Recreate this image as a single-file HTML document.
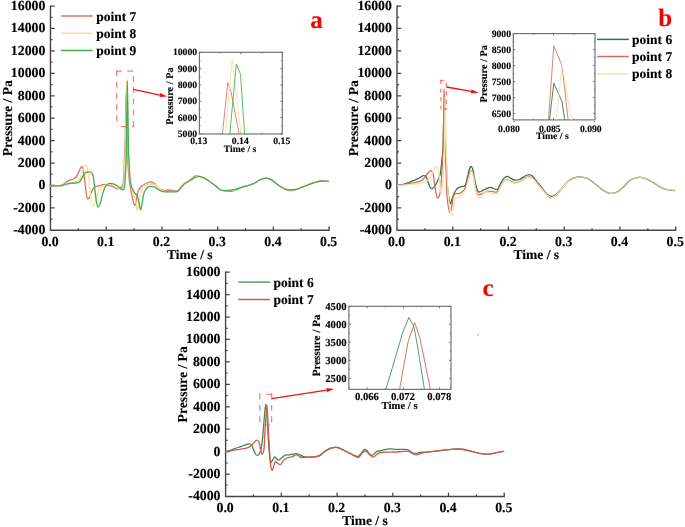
<!DOCTYPE html>
<html><head><meta charset="utf-8"><style>
html,body{margin:0;padding:0;background:#fff;width:685px;height:527px;overflow:hidden}
svg{display:block;will-change:transform} text{stroke-width:0.12px}
</style></head><body>
<svg width="685" height="527" viewBox="0 0 685 527" font-family="'Liberation Serif', serif" font-weight="bold" text-rendering="geometricPrecision">
<rect width="685" height="527" fill="#fff"/>
<g>
<path d="M50.45,5.45 V230.3 H329.1 V226.5" fill="none" stroke="#464646" stroke-width="1.4"/>
<path d="M50.45,6.05 h4.2 M50.45,17.26 h2.0 M50.45,28.48 h4.2 M50.45,39.69 h2.0 M50.45,50.9 h4.2 M50.45,62.11 h2.0 M50.45,73.33 h4.2 M50.45,84.54 h2.0 M50.45,95.75 h4.2 M50.45,106.96 h2.0 M50.45,118.17 h4.2 M50.45,129.39 h2.0 M50.45,140.6 h4.2 M50.45,151.81 h2.0 M50.45,163.03 h4.2 M50.45,174.24 h2.0 M50.45,185.45 h4.2 M50.45,196.66 h2.0 M50.45,207.88 h4.2 M50.45,219.09 h2.0 M78.31,230.3 v-2.0 M106.18,230.3 v-3.8 M134.05,230.3 v-2.0 M161.91,230.3 v-3.8 M189.78,230.3 v-2.0 M217.64,230.3 v-3.8 M245.5,230.3 v-2.0 M273.37,230.3 v-3.8 M301.24,230.3 v-2.0" stroke="#464646" stroke-width="1.25" fill="none"/>
<text x="45.35" y="10.05" font-size="13.8" text-anchor="end" fill="#000" stroke="#000" >16000</text>
<text x="45.35" y="32.48" font-size="13.8" text-anchor="end" fill="#000" stroke="#000" >14000</text>
<text x="45.35" y="54.9" font-size="13.8" text-anchor="end" fill="#000" stroke="#000" >12000</text>
<text x="45.35" y="77.33" font-size="13.8" text-anchor="end" fill="#000" stroke="#000" >10000</text>
<text x="45.35" y="99.75" font-size="13.8" text-anchor="end" fill="#000" stroke="#000" >8000</text>
<text x="45.35" y="122.17" font-size="13.8" text-anchor="end" fill="#000" stroke="#000" >6000</text>
<text x="45.35" y="144.6" font-size="13.8" text-anchor="end" fill="#000" stroke="#000" >4000</text>
<text x="45.35" y="167.03" font-size="13.8" text-anchor="end" fill="#000" stroke="#000" >2000</text>
<text x="45.35" y="189.45" font-size="13.8" text-anchor="end" fill="#000" stroke="#000" >0</text>
<text x="45.35" y="211.88" font-size="13.8" text-anchor="end" fill="#000" stroke="#000" >-2000</text>
<text x="45.35" y="234.3" font-size="13.8" text-anchor="end" fill="#000" stroke="#000" >-4000</text>
<text x="50" y="246" font-size="13.8" text-anchor="middle" fill="#000" stroke="#000" >0.0</text>
<text x="105.73" y="246" font-size="13.8" text-anchor="middle" fill="#000" stroke="#000" >0.1</text>
<text x="161.46" y="246" font-size="13.8" text-anchor="middle" fill="#000" stroke="#000" >0.2</text>
<text x="217.19" y="246" font-size="13.8" text-anchor="middle" fill="#000" stroke="#000" >0.3</text>
<text x="272.92" y="246" font-size="13.8" text-anchor="middle" fill="#000" stroke="#000" >0.4</text>
<text x="328.65" y="246" font-size="13.8" text-anchor="middle" fill="#000" stroke="#000" >0.5</text>
<text x="189.78" y="258.7" font-size="13.5" text-anchor="middle" fill="#000" stroke="#000" >Time / s</text>
<text x="0" y="0" font-size="13.7" text-anchor="middle" stroke="#000" transform="translate(11.55,118.18) rotate(-90)">Pressure / Pa</text>
<path d="M60.9,16 h31.8" stroke="#d57466" stroke-width="1.5"/>
<text x="96.2" y="20.5" font-size="13.5" text-anchor="start" fill="#000" stroke="#000" >point 7</text>
<path d="M60.9,33.3 h31.8" stroke="#fbdf9a" stroke-width="1.5"/>
<text x="96.2" y="37.8" font-size="13.5" text-anchor="start" fill="#000" stroke="#000" >point 8</text>
<path d="M60.9,50.6 h31.8" stroke="#43ad4f" stroke-width="1.5"/>
<text x="96.2" y="55.1" font-size="13.5" text-anchor="start" fill="#000" stroke="#000" >point 9</text>
<text x="310.2" y="27.8" font-size="25" text-anchor="start" fill="#f20000" stroke="#f20000" >a</text>
<path d="M50.4,185.8 C54.17,185.6 58.92,186.13 61.7,185.2 C63.58,184.57 64.59,183.16 66,182.3 C67.29,181.51 68.51,180.76 69.8,180.2 C71.02,179.67 72.38,179.62 73.5,179 C74.62,178.38 75.64,177.58 76.5,176.5 C77.53,175.22 78.18,173.26 79,171.6 C79.84,169.9 80.76,166.48 81.5,166.4 C81.93,166.35 82.36,167.16 82.7,167.9 C83.35,169.3 83.58,171.99 84,174.7 C84.62,178.68 85.09,185.15 85.8,189.5 C86.36,192.97 86.66,198.39 87.7,198.8 C88.2,199 88.95,198.23 89.5,197.5 C90.49,196.19 90.96,192.59 92,190.7 C92.86,189.14 93.73,187.61 95,186.8 C96.22,186.02 97.9,186.2 99.4,185.8 C101,185.37 102.7,184.38 104.3,184.3 C105.8,184.23 107.21,184.78 108.7,185.2 C110.31,185.66 111.96,186.39 113.6,187 C115.26,187.62 117.16,189.03 118.6,188.9 C119.79,188.79 120.97,187.79 121.7,187 C122.33,186.32 122.57,185.78 122.9,184.6 C123.66,181.83 123.7,175.25 124,170 C124.35,163.86 124.56,157.34 124.8,150 C125.1,141.01 125.38,129.69 125.6,120 C125.81,110.89 125.86,93.5 126.1,93.5 C126.29,93.5 126.59,103.3 126.8,110 C127.13,120.43 127.3,138.96 127.6,150 C127.81,157.81 127.88,164.02 128.3,170 C128.64,174.89 129.11,179.2 129.7,183.3 C130.21,186.85 130.86,190.01 131.5,193.2 C132.1,196.2 132.7,199.63 133.4,201.9 C133.87,203.42 134.43,205.63 134.9,205.6 C135.49,205.56 135.98,201.65 136.5,199.4 C137.12,196.75 137.22,193.09 138.3,190.7 C139.2,188.71 140.51,187.08 142,185.8 C143.43,184.57 145.43,183.77 147,183.1 C148.3,182.54 149.48,181.83 150.7,181.9 C151.95,181.97 153.25,182.75 154.4,183.6 C155.74,184.59 156.6,186.57 158.1,187.7 C159.72,188.92 161.96,190.15 163.9,190.5 C165.66,190.82 167.48,189.94 169.2,190 C170.84,190.06 172.5,190.72 174,190.8 C175.31,190.87 176.59,191.12 177.7,190.6 C178.97,190 179.9,188.19 181,187 C182.1,185.82 183.03,184.51 184.3,183.5 C185.64,182.43 187.26,181.88 188.9,180.8 C190.93,179.47 193.59,176.5 195.5,176 C196.72,175.68 197.62,176.16 198.8,176.4 C200.22,176.68 201.86,177.04 203.4,177.7 C205.13,178.44 206.79,179.61 208.6,180.8 C210.7,182.18 213.07,184 215.2,185.6 C217.24,187.13 219.15,189.33 221.1,190.2 C222.64,190.88 224.11,190.82 225.7,191 C227.4,191.2 229.26,191.5 231,191.3 C232.76,191.1 234.48,190.45 236.2,189.8 C237.99,189.13 239.71,187.94 241.5,187.3 C243.21,186.69 245.18,186.49 246.7,186 C247.94,185.6 248.79,185.15 250,184.7 C251.47,184.16 253.34,183.77 254.9,183 C256.51,182.21 257.77,180.8 259.5,180 C261.42,179.12 263.95,178.09 266,178.1 C267.86,178.11 269.62,178.84 271.3,179.7 C273.13,180.64 274.75,182.4 276.5,183.7 C278.25,185 279.99,186.43 281.8,187.5 C283.5,188.51 285.28,189.51 287,190 C288.54,190.44 290.02,190.56 291.6,190.5 C293.31,190.43 295.12,190.05 296.9,189.5 C298.85,188.9 300.77,187.75 302.8,186.9 C304.93,186.01 307.19,185.1 309.4,184.3 C311.59,183.5 313.79,182.65 316,182.1 C318.15,181.56 320.38,181.11 322.5,181 C324.51,180.9 326.43,181.27 328.4,181.4" fill="none" stroke="#d57466" stroke-width="1.3" stroke-linejoin="round" stroke-linecap="round" />
<path d="M50.4,185.8 C54.37,185.73 59.02,186.22 62.3,185.6 C64.75,185.14 66.41,183.85 68.5,183.3 C70.54,182.76 72.83,183.04 74.7,182.3 C76.52,181.58 78.32,180.6 79.6,179 C81.14,177.07 81.72,173.52 82.7,171 C83.58,168.75 84.25,164.95 85.2,164.6 C85.67,164.43 86.28,164.82 86.7,165.4 C87.69,166.76 87.8,171.17 88.3,174.7 C88.95,179.31 89.38,185.39 90.1,190.7 C90.82,195.99 91.4,206.3 92.6,206.5 C93.28,206.61 94.23,203.76 95,201.9 C96.09,199.26 96.73,194.65 98.1,192 C99.16,189.94 100.38,188.25 101.9,187 C103.31,185.84 105.31,185.05 106.8,184.6 C107.95,184.26 108.92,184.08 110,184.2 C111.18,184.33 112.42,184.94 113.6,185.5 C114.85,186.09 115.99,187.05 117.3,187.7 C118.68,188.39 120.68,189.82 121.7,189.5 C122.51,189.24 122.87,188.31 123.3,187 C124.38,183.69 124.16,174.25 124.5,168 C124.83,161.92 125.05,157.18 125.3,150 C125.67,139.3 126.04,122.56 126.3,110 C126.53,98.82 126.6,78.3 126.8,78.3 C127,78.3 127.28,98.82 127.5,110 C127.75,122.56 127.88,138.96 128.2,150 C128.42,157.81 128.68,164.76 129,170 C129.21,173.4 129.27,175.69 129.7,178.4 C130.12,181.01 130.88,183.5 131.5,186 C132.11,188.44 132.71,190.69 133.4,193.2 C134.16,195.97 135.25,198.99 135.9,201.9 C136.54,204.76 136.76,210.48 137.3,210.5 C137.8,210.52 138.47,205.83 139,203.1 C139.65,199.78 139.68,195.08 140.8,192 C141.7,189.53 142.78,187.13 144.5,185.8 C146.13,184.54 148.75,184.04 150.7,184 C152.42,183.96 154.05,184.4 155.6,185.2 C157.37,186.11 158.9,188.44 160.6,189.5 C162.05,190.4 163.33,191.03 165,191.4 C166.98,191.84 169.61,191.64 171.8,191.6 C173.84,191.56 176.14,191.98 177.7,191.2 C179.14,190.48 179.89,188.64 181,187.4 C182.09,186.18 183.02,184.83 184.3,183.8 C185.64,182.72 187.32,182.06 188.9,181.1 C190.61,180.07 192.45,178.62 194.2,177.8 C195.74,177.08 197.26,176.32 198.8,176.3 C200.33,176.28 201.86,177.02 203.4,177.7 C205.13,178.46 206.79,179.61 208.6,180.8 C210.7,182.18 213.07,184.03 215.2,185.6 C217.23,187.09 219.15,189.21 221.1,190 C222.65,190.63 224.11,190.53 225.7,190.6 C227.4,190.68 229.25,190.62 231,190.4 C232.75,190.18 234.48,189.8 236.2,189.3 C237.98,188.78 239.73,187.85 241.5,187.3 C243.23,186.76 245.13,186.41 246.7,186 C248.01,185.65 249.04,185.45 250.3,185 C251.76,184.48 253.4,183.81 254.9,183 C256.47,182.15 257.77,180.8 259.5,180 C261.42,179.12 263.95,178.09 266,178.1 C267.86,178.11 269.62,178.84 271.3,179.7 C273.13,180.64 274.74,182.43 276.5,183.7 C278.24,184.96 280,186.3 281.8,187.3 C283.5,188.24 285.28,189.16 287,189.6 C288.55,190 290.02,190.05 291.6,190 C293.31,189.95 295.11,189.68 296.9,189.2 C298.84,188.68 300.78,187.69 302.8,186.9 C304.94,186.06 307.19,185.1 309.4,184.3 C311.59,183.5 313.79,182.65 316,182.1 C318.15,181.56 320.38,181.11 322.5,181 C324.51,180.9 326.43,181.27 328.4,181.4" fill="none" stroke="#fbdf9a" stroke-width="1.3" stroke-linejoin="round" stroke-linecap="round" />
<path d="M50.4,185.8 C54.37,185.73 59.01,186.15 62.3,185.6 C64.74,185.2 66.41,184.02 68.5,183.6 C70.54,183.19 72.83,183.35 74.7,183.1 C76.27,182.89 77.81,183.07 79,182.3 C80.33,181.43 81.09,179.35 82.1,177.8 C83.15,176.19 83.95,173.66 85.2,172.8 C86.12,172.17 87.33,172.33 88.3,172.2 C89.15,172.08 90,171.72 90.7,172 C91.46,172.3 92.08,173 92.6,174.1 C93.67,176.34 93.82,181.67 94.4,185.8 C95.05,190.44 95.51,196.71 96.3,200.6 C96.83,203.2 97.32,206.87 98.1,207 C98.65,207.09 99.42,205.55 100,204.3 C101.01,202.09 101.51,197.5 102.5,194.4 C103.4,191.56 104.33,188.31 105.6,186.4 C106.49,185.07 107.43,183.95 108.6,183.5 C109.71,183.07 111.08,183.3 112.4,183.6 C113.96,183.96 115.84,184.88 117.3,185.8 C118.69,186.67 119.86,188.22 121,188.9 C121.81,189.38 122.73,190.04 123.3,189.8 C123.94,189.53 124.18,188.3 124.5,187 C125.14,184.38 125.14,179.22 125.4,174.7 C125.72,169.16 125.98,163.39 126.2,156.2 C126.5,146.14 126.62,132.3 126.8,120 C126.99,107.22 127.1,80.9 127.3,80.9 C127.47,80.9 127.71,99.53 127.9,110 C128.12,122.27 128.2,140.49 128.5,150 C128.67,155.28 128.9,158.19 129.1,162.3 C129.3,166.42 129.37,170.8 129.7,174.7 C130,178.19 130.1,181.59 130.9,184.6 C131.61,187.3 132.8,190.03 134,192 C134.93,193.53 136.38,194.39 137.1,195.7 C137.75,196.87 137.88,197.84 138.3,199.4 C139,201.99 139.91,209.89 140.6,209.9 C141.11,209.91 141.54,206.49 142,204.3 C142.64,201.24 142.84,196.18 143.9,193.2 C144.69,190.97 145.67,188.82 147,187.7 C148.05,186.82 149.45,186.51 150.7,186.4 C151.92,186.29 153.22,186.53 154.4,187 C155.69,187.51 156.84,188.76 158.1,189.5 C159.31,190.22 160.55,191 161.8,191.4 C162.95,191.77 163.95,191.81 165.3,191.9 C167.13,192.02 169.69,191.91 171.8,191.8 C173.82,191.7 176.13,192.08 177.7,191.3 C179.13,190.58 179.9,188.83 181,187.6 C182.1,186.37 183.01,184.94 184.3,183.9 C185.63,182.83 187.32,182.22 188.9,181.3 C190.61,180.3 192.46,178.94 194.2,178.1 C195.75,177.35 197.26,176.46 198.8,176.4 C200.32,176.34 201.86,177.04 203.4,177.7 C205.13,178.44 206.79,179.61 208.6,180.8 C210.7,182.18 213.07,184.03 215.2,185.6 C217.23,187.09 219.15,189.21 221.1,190 C222.65,190.63 224.11,190.56 225.7,190.6 C227.4,190.65 229.25,190.43 231,190.2 C232.75,189.97 234.48,189.67 236.2,189.2 C237.98,188.71 239.73,187.84 241.5,187.3 C243.23,186.78 245.13,186.41 246.7,186 C248.01,185.65 249.04,185.45 250.3,185 C251.76,184.48 253.4,183.81 254.9,183 C256.47,182.15 257.77,180.8 259.5,180 C261.42,179.12 263.95,178.09 266,178.1 C267.86,178.11 269.62,178.84 271.3,179.7 C273.13,180.64 274.74,182.43 276.5,183.7 C278.24,184.96 280,186.3 281.8,187.3 C283.5,188.24 285.28,189.16 287,189.6 C288.55,190 290.02,190.05 291.6,190 C293.31,189.95 295.11,189.68 296.9,189.2 C298.84,188.68 300.78,187.69 302.8,186.9 C304.94,186.06 307.19,185.1 309.4,184.3 C311.59,183.5 313.79,182.65 316,182.1 C318.15,181.56 320.38,181.11 322.5,181 C324.51,180.9 326.43,181.27 328.4,181.4" fill="none" stroke="#43ad4f" stroke-width="1.3" stroke-linejoin="round" stroke-linecap="round" />
<path d="M116.05,71.2 L133.5,71.2" fill="none" stroke="#ff6060" stroke-width="1.3" stroke-dasharray="5.8 5.4" stroke-dashoffset="0" opacity="0.82"/>
<path d="M133.5,70.55 L133.5,126.7" fill="none" stroke="#ff6060" stroke-width="1.3" stroke-dasharray="5.8 5.4" stroke-dashoffset="5.6" opacity="0.82"/>
<path d="M134.15,126.7 L116.7,126.7" fill="none" stroke="#ff6060" stroke-width="1.3" stroke-dasharray="5.8 5.4" stroke-dashoffset="3.7" opacity="0.82"/>
<path d="M116.7,70.55 L116.7,126.7" fill="none" stroke="#ff6060" stroke-width="1.3" stroke-dasharray="5.8 5.4" stroke-dashoffset="0" opacity="0.82"/>
<path d="M133.4,89.3 L159.87,95.02" stroke="#f01010" stroke-width="1.3"/>
<path d="M167.2,96.6 L159.45,96.97 L160.29,93.06 Z" fill="#f01010"/>
<rect x="199.4" y="52.3" width="82.9" height="81.7" fill="none" stroke="#6e6e6e" stroke-width="1.15"/>
<path d="M199.4,134 v-2 M199.4,52.3 v2 M240.85,134 v-2 M240.85,52.3 v2 M282.3,134 v-2 M282.3,52.3 v2 M220.1,134 v-1.2 M220.1,52.3 v1.2 M261.6,134 v-1.2 M261.6,52.3 v1.2 M199.4,52.3 h2 M282.3,52.3 h-2 M199.4,68.64 h2 M282.3,68.64 h-2 M199.4,84.98 h2 M282.3,84.98 h-2 M199.4,101.32 h2 M282.3,101.32 h-2 M199.4,117.66 h2 M282.3,117.66 h-2 M199.4,134 h2 M282.3,134 h-2 M199.4,60.47 h1.2 M282.3,60.47 h-1.2 M199.4,76.81 h1.2 M282.3,76.81 h-1.2 M199.4,93.15 h1.2 M282.3,93.15 h-1.2 M199.4,109.49 h1.2 M282.3,109.49 h-1.2 M199.4,125.83 h1.2 M282.3,125.83 h-1.2" stroke="#6e6e6e" stroke-width="0.9" fill="none"/>
<text x="197.1" y="55.31" font-size="9.7" text-anchor="end" fill="#000" stroke="#000" >10000</text>
<text x="197.1" y="71.65" font-size="9.7" text-anchor="end" fill="#000" stroke="#000" >9000</text>
<text x="197.1" y="87.99" font-size="9.7" text-anchor="end" fill="#000" stroke="#000" >8000</text>
<text x="197.1" y="104.33" font-size="9.7" text-anchor="end" fill="#000" stroke="#000" >7000</text>
<text x="197.1" y="120.67" font-size="9.7" text-anchor="end" fill="#000" stroke="#000" >6000</text>
<text x="197.1" y="137.01" font-size="9.7" text-anchor="end" fill="#000" stroke="#000" >5000</text>
<text x="198.8" y="143.7" font-size="9.7" text-anchor="middle" fill="#000" stroke="#000" >0.13</text>
<text x="240.3" y="143.7" font-size="9.7" text-anchor="middle" fill="#000" stroke="#000" >0.14</text>
<text x="281.75" y="143.7" font-size="9.7" text-anchor="middle" fill="#000" stroke="#000" >0.15</text>
<text x="240.05" y="151.5" font-size="9.7" text-anchor="middle" fill="#000" stroke="#000" >Time / s</text>
<text x="0" y="0" font-size="10.3" text-anchor="middle" stroke="#000" transform="translate(173.4,96.1) rotate(-90)">Pressure / Pa</text>
<clipPath id="ca"><rect x="199.4" y="52.3" width="82.9" height="81.7"/></clipPath>
<g clip-path="url(#ca)">
<path d="M222.3,135 L227.8,82.5 L231.2,92.5 L239.3,135" fill="none" stroke="#d57466" stroke-width="1.0" stroke-linejoin="round" stroke-linecap="round" opacity="0.85"/>
<path d="M225.3,135 L232.2,59.2 L241.2,135" fill="none" stroke="#fbdf9a" stroke-width="1.0" stroke-linejoin="round" stroke-linecap="round" opacity="0.85"/>
<path d="M229.7,135 L236.3,64.2 L240.5,74.2 L244.7,135" fill="none" stroke="#43ad4f" stroke-width="1.0" stroke-linejoin="round" stroke-linecap="round" opacity="0.85"/>
</g>
</g>
<path d="M397,5.45 V230.3 H675.65 V226.5" fill="none" stroke="#464646" stroke-width="1.4"/>
<path d="M397,6.05 h4.2 M397,17.26 h2.0 M397,28.48 h4.2 M397,39.69 h2.0 M397,50.9 h4.2 M397,62.11 h2.0 M397,73.33 h4.2 M397,84.54 h2.0 M397,95.75 h4.2 M397,106.96 h2.0 M397,118.17 h4.2 M397,129.39 h2.0 M397,140.6 h4.2 M397,151.81 h2.0 M397,163.03 h4.2 M397,174.24 h2.0 M397,185.45 h4.2 M397,196.66 h2.0 M397,207.88 h4.2 M397,219.09 h2.0 M424.87,230.3 v-2.0 M452.73,230.3 v-3.8 M480.6,230.3 v-2.0 M508.46,230.3 v-3.8 M536.33,230.3 v-2.0 M564.19,230.3 v-3.8 M592.06,230.3 v-2.0 M619.92,230.3 v-3.8 M647.79,230.3 v-2.0" stroke="#464646" stroke-width="1.25" fill="none"/>
<text x="391.9" y="10.05" font-size="13.8" text-anchor="end" fill="#000" stroke="#000" >16000</text>
<text x="391.9" y="32.48" font-size="13.8" text-anchor="end" fill="#000" stroke="#000" >14000</text>
<text x="391.9" y="54.9" font-size="13.8" text-anchor="end" fill="#000" stroke="#000" >12000</text>
<text x="391.9" y="77.33" font-size="13.8" text-anchor="end" fill="#000" stroke="#000" >10000</text>
<text x="391.9" y="99.75" font-size="13.8" text-anchor="end" fill="#000" stroke="#000" >8000</text>
<text x="391.9" y="122.17" font-size="13.8" text-anchor="end" fill="#000" stroke="#000" >6000</text>
<text x="391.9" y="144.6" font-size="13.8" text-anchor="end" fill="#000" stroke="#000" >4000</text>
<text x="391.9" y="167.03" font-size="13.8" text-anchor="end" fill="#000" stroke="#000" >2000</text>
<text x="391.9" y="189.45" font-size="13.8" text-anchor="end" fill="#000" stroke="#000" >0</text>
<text x="391.9" y="211.88" font-size="13.8" text-anchor="end" fill="#000" stroke="#000" >-2000</text>
<text x="391.9" y="234.3" font-size="13.8" text-anchor="end" fill="#000" stroke="#000" >-4000</text>
<text x="396.55" y="246" font-size="13.8" text-anchor="middle" fill="#000" stroke="#000" >0.0</text>
<text x="452.28" y="246" font-size="13.8" text-anchor="middle" fill="#000" stroke="#000" >0.1</text>
<text x="508.01" y="246" font-size="13.8" text-anchor="middle" fill="#000" stroke="#000" >0.2</text>
<text x="563.74" y="246" font-size="13.8" text-anchor="middle" fill="#000" stroke="#000" >0.3</text>
<text x="619.47" y="246" font-size="13.8" text-anchor="middle" fill="#000" stroke="#000" >0.4</text>
<text x="675.2" y="246" font-size="13.8" text-anchor="middle" fill="#000" stroke="#000" >0.5</text>
<text x="536.33" y="258.7" font-size="13.5" text-anchor="middle" fill="#000" stroke="#000" >Time / s</text>
<text x="0" y="0" font-size="13.7" text-anchor="middle" stroke="#000" transform="translate(358.1,118.18) rotate(-90)">Pressure / Pa</text>
<path d="M597.1,39.4 h31.8" stroke="#2a7342" stroke-width="1.5"/>
<text x="632" y="43.9" font-size="13.5" text-anchor="start" fill="#000" stroke="#000" >point 6</text>
<path d="M597.1,56.5 h31.8" stroke="#d76c5c" stroke-width="1.5"/>
<text x="632" y="61" font-size="13.5" text-anchor="start" fill="#000" stroke="#000" >point 7</text>
<path d="M597.1,73.8 h31.8" stroke="#f7e1ab" stroke-width="1.5"/>
<text x="632" y="78.3" font-size="13.5" text-anchor="start" fill="#000" stroke="#000" >point 8</text>
<text x="658.3" y="26.3" font-size="25" text-anchor="start" fill="#f20000" stroke="#f20000" >b</text>
<path d="M397.2,185.8 C398.93,185.4 400.6,185.08 402.4,184.6 C404.38,184.07 406.55,183.43 408.6,182.7 C410.68,181.96 412.87,181.06 414.8,180.2 C416.54,179.42 418.2,178.61 419.7,177.8 C421.04,177.08 422.26,175.71 423.4,175.6 C424.29,175.51 425.19,175.81 425.9,176.5 C427.02,177.59 427.47,180.7 428.3,182.7 C429.1,184.62 429.77,187.63 430.8,188.3 C431.37,188.67 432.07,188.6 432.7,188.3 C433.7,187.82 434.81,185.98 435.7,184.6 C436.66,183.11 437.46,181.28 438.2,179.6 C438.92,177.98 439.57,176.82 440.1,174.7 C440.99,171.14 441.41,164.34 441.9,159.9 C442.3,156.27 442.64,154.06 442.9,150 C443.31,143.57 443.38,133.1 443.6,125 C443.81,117.33 443.97,102.6 444.2,102.6 C444.41,102.6 444.69,113.41 444.9,120 C445.17,128.65 445.3,142.68 445.6,150 C445.78,154.23 445.98,155.89 446.2,160 C446.55,166.62 446.75,178.48 447.4,185.9 C447.89,191.53 448.52,197.63 449.3,200.7 C449.67,202.15 450.08,203.81 450.5,203.8 C451.06,203.78 451.61,200.1 452.3,198.2 C453.03,196.17 453.77,193.77 454.8,192 C455.69,190.48 456.69,189.03 457.9,188.1 C458.99,187.27 460.4,186.87 461.6,186.5 C462.66,186.17 463.83,186.68 464.7,185.9 C466.27,184.49 466.95,179.07 467.8,176 C468.53,173.37 468.81,170.26 469.6,168.6 C470.07,167.62 470.7,166.46 471.2,166.5 C471.74,166.54 472.23,167.91 472.7,169.2 C473.67,171.87 474.27,178.33 475.2,182.2 C475.97,185.38 476.61,189.31 477.7,190.8 C478.24,191.53 478.78,191.95 479.5,192 C480.5,192.07 481.92,190.82 483.2,190.2 C484.58,189.53 486.16,188.59 487.5,188.1 C488.6,187.7 489.54,187.21 490.6,187.3 C491.8,187.41 493.11,188.63 494.3,189 C495.33,189.32 496.42,189.92 497.3,189.5 C498.54,188.91 499.25,186 500.3,184.2 C501.41,182.3 502.44,179.73 503.8,178.4 C504.85,177.37 506.13,176.4 507.3,176.4 C508.47,176.4 509.57,177.8 510.8,178.4 C512.09,179.03 513.47,179.91 514.9,180.1 C516.36,180.29 518.01,180.03 519.5,179.5 C521.12,178.92 522.6,177.43 524.2,176.6 C525.74,175.8 527.45,174.62 528.9,174.6 C530.15,174.59 531.27,175.15 532.4,176 C534,177.2 535.45,179.95 537,181.9 C538.55,183.85 540.13,185.77 541.7,187.7 C543.27,189.63 544.7,191.98 546.4,193.5 C547.87,194.81 549.5,196.34 551.1,196.5 C552.6,196.65 554.25,195.65 555.7,194.7 C557.38,193.6 558.88,191.69 560.4,190 C562.01,188.21 563.47,185.91 565.1,184.2 C566.58,182.65 567.96,181.24 569.7,180.1 C571.51,178.91 573.69,177.78 575.8,177.3 C577.86,176.83 580.08,176.93 582.2,177.2 C584.38,177.48 586.63,177.98 588.7,179 C590.95,180.11 592.98,182.16 595.1,183.8 C597.25,185.46 599.32,187.36 601.5,188.9 C603.59,190.38 605.93,192.2 607.9,192.9 C609.36,193.42 610.54,193.51 612,193.4 C613.73,193.26 615.77,192.76 617.6,191.8 C619.79,190.65 621.91,188.4 624,186.5 C626.18,184.51 628.09,181.58 630.4,180.1 C632.4,178.81 634.88,178.15 636.8,177.7 C638.29,177.35 639.36,177.14 640.9,177.3 C642.98,177.52 645.82,178.59 648.1,179.6 C650.35,180.6 652.38,182.02 654.5,183.3 C656.64,184.59 658.7,186.22 660.9,187.3 C663.01,188.33 665.14,189.17 667.4,189.7 C669.71,190.25 672.2,190.23 674.6,190.5" fill="none" stroke="#2a7342" stroke-width="1.3" stroke-linejoin="round" stroke-linecap="round" />
<path d="M397.2,185.8 C400.57,185.2 404.18,184.55 407.3,184 C409.99,183.53 412.44,183.25 414.8,182.7 C416.95,182.2 419.2,181.81 420.9,180.9 C422.38,180.1 423.49,179 424.6,177.8 C425.77,176.55 426.6,174.73 427.7,173.5 C428.68,172.41 429.91,170.66 430.8,170.7 C431.53,170.74 432.18,171.72 432.7,172.8 C433.71,174.89 433.89,179.75 434.5,183.3 C435.12,186.95 435.74,191.71 436.4,194.4 C436.79,195.98 437.05,198.01 437.6,198.1 C438.08,198.18 438.9,196.94 439.4,195.7 C440.52,192.94 440.8,186.27 441.3,180.9 C441.89,174.52 442.16,165.6 442.5,159.9 C442.73,155.99 442.94,154.19 443.1,150 C443.38,142.71 443.43,130.08 443.6,120 C443.77,109.75 443.87,89 444.1,89 C444.29,89 444.59,101.88 444.8,110 C445.08,121.2 445.21,138.23 445.5,150 C445.73,159.31 446.07,167.47 446.3,175 C446.49,181.21 446.41,186.42 446.8,192 C447.18,197.45 447.85,204.47 448.6,208.1 C448.99,210.01 449.42,212.39 449.9,212.4 C450.44,212.41 451.16,209.08 451.7,206.9 C452.45,203.85 452.54,197.76 453.6,195.7 C454.1,194.72 454.58,194.31 455.4,193.9 C456.48,193.36 458.39,193.94 459.8,193.3 C461.51,192.52 463.42,190.93 464.7,189 C466.27,186.64 466.85,182.69 467.8,179.7 C468.67,176.94 469.32,173.18 470.2,171.7 C470.61,171.01 471.1,170.31 471.5,170.4 C472.19,170.55 472.73,173.32 473.3,175.4 C474.2,178.67 474.77,184.82 475.8,188.3 C476.53,190.78 477,193.77 478.3,194.5 C479.27,195.05 480.71,194.32 482,193.9 C483.56,193.39 485.21,191.81 486.9,191.4 C488.51,191.01 490.24,191.3 491.9,191.4 C493.54,191.5 495.45,192.64 496.8,192 C498.35,191.27 499.13,188.33 500.3,186.5 C501.47,184.67 502.52,182.17 503.8,181 C504.71,180.17 505.62,179.53 506.7,179.5 C508.05,179.47 509.73,181.06 511.3,181.6 C512.83,182.12 514.44,182.75 516,182.7 C517.57,182.65 519.19,182.02 520.7,181.3 C522.33,180.53 523.9,178.83 525.4,178.1 C526.61,177.51 527.73,177.05 528.9,177 C530.06,176.95 531.26,177.12 532.4,177.8 C533.99,178.74 535.47,181.24 537,183 C538.57,184.8 540.14,186.64 541.7,188.5 C543.27,190.38 544.82,192.57 546.4,194.2 C547.76,195.6 548.97,197.57 550.5,197.8 C552.06,198.04 554.11,196.62 555.7,195.5 C557.44,194.26 558.87,192.28 560.4,190.5 C562.01,188.62 563.47,186.26 565.1,184.5 C566.58,182.91 567.92,181.47 569.7,180.3 C571.64,179.03 574.17,178.3 576.4,177.3" fill="none" stroke="#d76c5c" stroke-width="1.3" stroke-linejoin="round" stroke-linecap="round" />
<path d="M397.2,185.8 C401.4,185.4 405.86,185.05 409.8,184.6 C413.3,184.2 416.99,183.81 419.7,183.3 C421.63,182.94 423.03,182.84 424.6,182.1 C426.34,181.28 428.21,180.05 429.6,178.4 C431.2,176.49 432.07,173.2 433.3,171 C434.34,169.14 435.54,165.95 436.4,166 C437.13,166.04 437.71,168.12 438.2,169.8 C439.03,172.68 439.23,178.22 439.7,182.1 C440.12,185.58 440.31,191.94 440.9,192 C441.33,192.04 442.07,189.34 442.5,187 C443.43,181.93 443.45,169.11 443.8,162.3 C444.04,157.49 444.24,155 444.4,150 C444.64,142.19 444.68,129.4 444.8,120 C444.91,111.66 444.97,96.4 445.1,96.4 C445.23,96.4 445.43,111.66 445.6,120 C445.79,129.4 445.93,141.01 446.2,150 C446.42,157.34 446.71,163.17 447,170 C447.31,177.16 447.47,185.11 448,192 C448.47,198.12 448.95,205.02 449.9,209.3 C450.48,211.93 451.41,215.54 452,215.5 C452.68,215.45 453.05,209.87 453.6,206.9 C454.19,203.72 454,197.96 455.4,197 C456.18,196.46 457.48,197.86 458.5,197.6 C459.76,197.27 461.07,195.63 462.2,194.5 C463.33,193.37 464.41,192.49 465.3,190.8 C466.68,188.19 467.3,183.16 468.4,179.7 C469.38,176.61 470.6,171 471.5,171 C472.18,171 472.74,173.86 473.3,176 C474.24,179.6 474.63,186.77 475.8,190.8 C476.65,193.75 477.61,197.87 478.9,198.2 C479.81,198.43 480.95,196.65 482,195.7 C483.21,194.62 484.16,192.46 485.7,192 C487.39,191.5 489.95,192.98 491.9,193.3 C493.62,193.59 495.47,194.58 496.8,193.9 C498.42,193.07 499.12,189.59 500.3,187.5 C501.45,185.46 502.49,182.75 503.8,181.5 C504.7,180.65 505.62,180.01 506.7,180 C508.06,179.99 509.72,181.77 511.3,182.3 C512.82,182.82 514.44,183.28 516,183.2 C517.58,183.12 519.19,182.52 520.7,181.8 C522.33,181.03 523.9,179.33 525.4,178.6 C526.61,178.01 527.73,177.55 528.9,177.5 C530.06,177.45 531.26,177.62 532.4,178.3 C533.99,179.24 535.47,181.74 537,183.5 C538.57,185.3 540.13,187.17 541.7,189 C543.27,190.83 544.72,193.02 546.4,194.5 C547.88,195.81 549.51,197.48 551.1,197.6 C552.61,197.72 554.25,196.54 555.7,195.5 C557.38,194.29 558.87,192.28 560.4,190.5 C562.01,188.62 563.47,186.26 565.1,184.5 C566.58,182.91 567.92,181.47 569.7,180.3 C571.64,179.03 574.14,177.8 576.4,177.3 C578.51,176.83 580.68,176.93 582.8,177.2 C584.98,177.48 587.23,177.98 589.3,179 C591.55,180.11 593.58,182.16 595.7,183.8 C597.85,185.46 599.92,187.36 602.1,188.9 C604.19,190.38 606.53,192.2 608.5,192.9 C609.96,193.42 611.14,193.51 612.6,193.4 C614.33,193.26 616.37,192.76 618.2,191.8 C620.39,190.65 622.51,188.4 624.6,186.5 C626.78,184.51 628.69,181.58 631,180.1 C633,178.81 635.48,178.15 637.4,177.7 C638.89,177.35 639.96,177.14 641.5,177.3 C643.58,177.52 646.42,178.59 648.7,179.6 C650.95,180.6 652.98,182.02 655.1,183.3 C657.24,184.59 659.3,186.22 661.5,187.3 C663.61,188.33 665.74,189.17 668,189.7 C670.31,190.25 672.8,190.23 675.2,190.5" fill="none" stroke="#f7e1ab" stroke-width="1.3" stroke-linejoin="round" stroke-linecap="round" />
<path d="M569.4,180.2 C571.63,179.23 573.84,177.79 576.1,177.3 C578.21,176.85 580.38,176.93 582.5,177.2 C584.68,177.48 586.93,177.98 589,179 C591.25,180.11 593.28,182.16 595.4,183.8 C597.55,185.46 599.62,187.36 601.8,188.9 C603.89,190.38 606.23,192.2 608.2,192.9 C609.66,193.42 610.84,193.51 612.3,193.4 C614.03,193.26 616.07,192.76 617.9,191.8 C620.09,190.65 622.21,188.4 624.3,186.5 C626.48,184.51 628.39,181.58 630.7,180.1 C632.7,178.81 635.18,178.15 637.1,177.7 C638.59,177.35 639.66,177.14 641.2,177.3 C643.28,177.52 646.12,178.59 648.4,179.6 C650.65,180.6 652.68,182.02 654.8,183.3 C656.94,184.59 659,186.22 661.2,187.3 C663.31,188.33 665.44,189.17 667.7,189.7 C670.01,190.25 672.5,190.23 674.9,190.5" fill="none" stroke="#2a7342" stroke-width="1.0" stroke-linejoin="round" stroke-linecap="round" opacity="0.25"/>
<path d="M440.25,80.5 L446.4,80.5" fill="none" stroke="#ff6060" stroke-width="1.3" stroke-dasharray="4.2 4.4" stroke-dashoffset="0" opacity="0.82"/>
<path d="M446.4,79.85 L446.4,109.2" fill="none" stroke="#ff6060" stroke-width="1.3" stroke-dasharray="4.2 4.4" stroke-dashoffset="5.9" opacity="0.82"/>
<path d="M447.05,109.2 L440.9,109.2" fill="none" stroke="#ff6060" stroke-width="1.3" stroke-dasharray="4.2 4.4" stroke-dashoffset="0" opacity="0.82"/>
<path d="M440.9,79.85 L440.9,109.2" fill="none" stroke="#ff6060" stroke-width="1.3" stroke-dasharray="4.2 4.4" stroke-dashoffset="0" opacity="0.82"/>
<path d="M446.4,87 L471.12,91.47" stroke="#f01010" stroke-width="1.3"/>
<path d="M478.5,92.8 L470.76,93.43 L471.48,89.5 Z" fill="#f01010"/>
<rect x="513.3" y="33.6" width="81.7" height="86.3" fill="none" stroke="#6e6e6e" stroke-width="1.15"/>
<path d="M513.3,119.9 v-2 M513.3,33.6 v2 M553.5,119.9 v-2 M553.5,33.6 v2 M533.4,119.9 v-1.2 M533.4,33.6 v1.2 M573.6,119.9 v-1.2 M573.6,33.6 v1.2 M513.3,33.6 h2 M595,33.6 h-2 M513.3,49.6 h2 M595,49.6 h-2 M513.3,65.6 h2 M595,65.6 h-2 M513.3,81.6 h2 M595,81.6 h-2 M513.3,97.6 h2 M595,97.6 h-2 M513.3,113.6 h2 M595,113.6 h-2 M513.3,41.6 h1.2 M595,41.6 h-1.2 M513.3,57.6 h1.2 M595,57.6 h-1.2 M513.3,73.6 h1.2 M595,73.6 h-1.2 M513.3,89.6 h1.2 M595,89.6 h-1.2 M513.3,105.6 h1.2 M595,105.6 h-1.2 M513.3,121.6 h1.2 M595,121.6 h-1.2" stroke="#6e6e6e" stroke-width="0.9" fill="none"/>
<text x="511" y="36.61" font-size="9.7" text-anchor="end" fill="#000" stroke="#000" >9000</text>
<text x="511" y="52.61" font-size="9.7" text-anchor="end" fill="#000" stroke="#000" >8500</text>
<text x="511" y="68.61" font-size="9.7" text-anchor="end" fill="#000" stroke="#000" >8000</text>
<text x="511" y="84.61" font-size="9.7" text-anchor="end" fill="#000" stroke="#000" >7500</text>
<text x="511" y="100.61" font-size="9.7" text-anchor="end" fill="#000" stroke="#000" >7000</text>
<text x="511" y="116.61" font-size="9.7" text-anchor="end" fill="#000" stroke="#000" >6500</text>
<text x="509" y="131.5" font-size="9.7" text-anchor="middle" fill="#000" stroke="#000" >0.080</text>
<text x="549.8" y="131.5" font-size="9.7" text-anchor="middle" fill="#000" stroke="#000" >0.085</text>
<text x="590.8" y="131.5" font-size="9.7" text-anchor="middle" fill="#000" stroke="#000" >0.090</text>
<text x="552.35" y="139.2" font-size="9.7" text-anchor="middle" fill="#000" stroke="#000" >Time / s</text>
<text x="0" y="0" font-size="10.3" text-anchor="middle" stroke="#000" transform="translate(487.2,73.7) rotate(-90)">Pressure / Pa</text>
<clipPath id="cb"><rect x="513.3" y="33.6" width="81.7" height="86.3"/></clipPath>
<g clip-path="url(#cb)">
<path d="M549.4,121 L553.8,83.2 L562.1,101.7 L564.9,121" fill="none" stroke="#2a7342" stroke-width="1.0" stroke-linejoin="round" stroke-linecap="round" opacity="0.85"/>
<path d="M548.4,121 L553.8,45.9 L562.1,65.9 L568.3,121" fill="none" stroke="#d76c5c" stroke-width="1.0" stroke-linejoin="round" stroke-linecap="round" opacity="0.85"/>
<path d="M556.2,121 L562.1,64.9 L571.7,121" fill="none" stroke="#f7e1ab" stroke-width="1.0" stroke-linejoin="round" stroke-linecap="round" opacity="0.85"/>
</g>
<path d="M225.6,271.6 V496.45 H504.25 V492.65" fill="none" stroke="#464646" stroke-width="1.4"/>
<path d="M225.6,272.2 h4.2 M225.6,283.41 h2.0 M225.6,294.62 h4.2 M225.6,305.84 h2.0 M225.6,317.05 h4.2 M225.6,328.26 h2.0 M225.6,339.48 h4.2 M225.6,350.69 h2.0 M225.6,361.9 h4.2 M225.6,373.11 h2.0 M225.6,384.32 h4.2 M225.6,395.54 h2.0 M225.6,406.75 h4.2 M225.6,417.96 h2.0 M225.6,429.17 h4.2 M225.6,440.39 h2.0 M225.6,451.6 h4.2 M225.6,462.81 h2.0 M225.6,474.02 h4.2 M225.6,485.24 h2.0 M253.47,496.45 v-2.0 M281.33,496.45 v-3.8 M309.2,496.45 v-2.0 M337.06,496.45 v-3.8 M364.93,496.45 v-2.0 M392.79,496.45 v-3.8 M420.65,496.45 v-2.0 M448.52,496.45 v-3.8 M476.38,496.45 v-2.0" stroke="#464646" stroke-width="1.25" fill="none"/>
<text x="220.5" y="276.2" font-size="13.8" text-anchor="end" fill="#000" stroke="#000" >16000</text>
<text x="220.5" y="298.62" font-size="13.8" text-anchor="end" fill="#000" stroke="#000" >14000</text>
<text x="220.5" y="321.05" font-size="13.8" text-anchor="end" fill="#000" stroke="#000" >12000</text>
<text x="220.5" y="343.48" font-size="13.8" text-anchor="end" fill="#000" stroke="#000" >10000</text>
<text x="220.5" y="365.9" font-size="13.8" text-anchor="end" fill="#000" stroke="#000" >8000</text>
<text x="220.5" y="388.32" font-size="13.8" text-anchor="end" fill="#000" stroke="#000" >6000</text>
<text x="220.5" y="410.75" font-size="13.8" text-anchor="end" fill="#000" stroke="#000" >4000</text>
<text x="220.5" y="433.17" font-size="13.8" text-anchor="end" fill="#000" stroke="#000" >2000</text>
<text x="220.5" y="455.6" font-size="13.8" text-anchor="end" fill="#000" stroke="#000" >0</text>
<text x="220.5" y="478.02" font-size="13.8" text-anchor="end" fill="#000" stroke="#000" >-2000</text>
<text x="220.5" y="500.45" font-size="13.8" text-anchor="end" fill="#000" stroke="#000" >-4000</text>
<text x="225.15" y="512.15" font-size="13.8" text-anchor="middle" fill="#000" stroke="#000" >0.0</text>
<text x="280.88" y="512.15" font-size="13.8" text-anchor="middle" fill="#000" stroke="#000" >0.1</text>
<text x="336.61" y="512.15" font-size="13.8" text-anchor="middle" fill="#000" stroke="#000" >0.2</text>
<text x="392.34" y="512.15" font-size="13.8" text-anchor="middle" fill="#000" stroke="#000" >0.3</text>
<text x="448.07" y="512.15" font-size="13.8" text-anchor="middle" fill="#000" stroke="#000" >0.4</text>
<text x="503.8" y="512.15" font-size="13.8" text-anchor="middle" fill="#000" stroke="#000" >0.5</text>
<text x="364.93" y="524.85" font-size="13.5" text-anchor="middle" fill="#000" stroke="#000" >Time / s</text>
<text x="0" y="0" font-size="13.7" text-anchor="middle" stroke="#000" transform="translate(186.7,384.32) rotate(-90)">Pressure / Pa</text>
<path d="M238.3,282.1 h31.8" stroke="#3b8a57" stroke-width="1.3"/>
<text x="273.5" y="286.6" font-size="13.5" text-anchor="start" fill="#000" stroke="#000" >point 6</text>
<path d="M238.3,299.6 h31.8" stroke="#d4594a" stroke-width="1.5"/>
<text x="273.5" y="304.1" font-size="13.5" text-anchor="start" fill="#000" stroke="#000" >point 7</text>
<text x="482.6" y="296.3" font-size="25" text-anchor="start" fill="#f20000" stroke="#f20000" >c</text>
<path d="M225.8,451.5 C227.27,451.1 228.68,450.78 230.2,450.3 C231.87,449.77 233.65,449.02 235.4,448.4 C237.15,447.78 238.95,447.22 240.7,446.6 C242.45,445.98 244.38,445.2 245.9,444.7 C247.06,444.32 248.02,443.73 249,443.8 C249.92,443.87 250.89,444.25 251.6,445 C252.61,446.06 252.9,448.61 253.7,450.3 C254.47,451.94 255.28,454.4 256.3,455 C256.94,455.38 257.79,455.36 258.4,455 C259.27,454.49 259.94,452.84 260.5,451.3 C261.28,449.14 261.58,445.94 262,443 C262.47,439.71 262.76,436.15 263.1,432.5 C263.47,428.52 263.77,423.93 264.1,420 C264.4,416.48 264.65,412.88 265,410 C265.27,407.8 265.63,404.2 265.9,404.2 C266.17,404.2 266.39,407.8 266.6,410 C266.87,412.88 267.04,415.88 267.3,420 C267.72,426.65 268.09,438.38 268.8,446.1 C269.37,452.3 269.81,462.56 270.9,462.8 C271.36,462.9 271.92,461.11 272.5,460.2 C273.15,459.18 273.82,457.13 274.6,457 C275.25,456.89 276.01,458.06 276.7,458.6 C277.38,459.13 277.96,460.2 278.7,460.2 C279.64,460.2 280.81,458.45 281.9,457.6 C283.01,456.74 284.05,455.55 285.3,455.1 C286.52,454.67 288.02,455.06 289.3,454.9 C290.51,454.75 291.62,454.42 292.8,454.2 C293.99,453.98 295.22,453.5 296.4,453.6 C297.59,453.7 298.75,454.31 299.9,454.8 C301.09,455.3 302.12,456.2 303.4,456.6 C304.79,457.03 306.46,457.12 308,457.2 C309.56,457.28 311.14,457.25 312.7,457.1 C314.27,456.95 316.04,456.69 317.4,456.3 C318.5,455.98 319.3,455.71 320.3,455.1 C321.61,454.3 322.94,452.66 324.4,451.6 C325.87,450.53 327.49,449.39 329.1,448.7 C330.59,448.06 332.2,447.69 333.7,447.5 C335.09,447.32 336.46,447.22 337.8,447.5 C339.2,447.79 340.49,448.65 341.9,449.3 C343.42,450.01 345.04,450.83 346.6,451.6 C348.14,452.36 349.68,453.19 351.2,453.9 C352.65,454.58 354.26,455.32 355.5,455.8 C356.41,456.15 357.11,456.77 357.9,456.6 C358.89,456.39 359.93,454.91 360.8,453.9 C361.7,452.85 362.32,451.18 363.2,450.4 C363.86,449.82 364.63,449.23 365.3,449.3 C366,449.38 366.64,450.32 367.3,451 C368.08,451.81 368.77,453.12 369.6,453.9 C370.32,454.58 371.14,455.54 371.9,455.5 C372.71,455.46 373.44,454.07 374.3,453.4 C375.2,452.7 376.06,451.89 377.2,451.4 C378.53,450.83 380.4,450.77 381.9,450.4 C383.29,450.06 384.55,449.55 385.9,449.3 C387.25,449.05 388.51,448.92 390,448.9 C391.79,448.87 393.94,449.23 395.9,449.3 C397.84,449.37 399.76,449.25 401.7,449.3 C403.66,449.35 406.04,449.07 407.6,449.6 C408.81,450.01 409.51,451.02 410.5,451.6 C411.45,452.15 412.36,452.7 413.4,453 C414.49,453.31 415.74,453.5 416.9,453.4 C418.08,453.3 419.13,452.6 420.4,452.4 C421.84,452.17 423.54,452.33 425.1,452.2 C426.64,452.07 427.99,451.81 429.7,451.6 C431.85,451.34 434.59,451.05 437,450.8 C439.36,450.55 441.67,450.35 444,450.1 C446.33,449.85 448.66,449.48 451,449.3 C453.33,449.12 455.77,448.95 458,449 C460.05,449.04 461.95,449.2 463.9,449.5 C465.85,449.8 467.77,450.32 469.7,450.8 C471.64,451.28 473.55,451.92 475.5,452.4 C477.45,452.88 479.43,453.4 481.4,453.7 C483.33,453.99 485.26,454.25 487.2,454.2 C489.16,454.15 491.15,453.73 493.1,453.4 C495.05,453.07 497.07,452.55 498.9,452.2 C500.55,451.89 502.03,451.67 503.6,451.4" fill="none" stroke="#3b8a57" stroke-width="1.3" stroke-linejoin="round" stroke-linecap="round" />
<path d="M225.8,451.5 C227.63,451.27 229.42,451.09 231.3,450.8 C233.31,450.49 235.42,450.05 237.5,449.7 C239.59,449.35 241.82,449.16 243.8,448.7 C245.63,448.27 247.48,447.92 249,447.1 C250.43,446.32 251.45,445.11 252.7,444 C254.05,442.79 255.65,440.13 256.8,440.1 C257.61,440.08 258.34,440.97 258.9,441.9 C259.82,443.43 259.94,446.98 260.5,449.2 C260.98,451.09 261.41,454.34 262,454.4 C262.47,454.45 263.18,452.79 263.6,451.3 C264.48,448.15 264.35,440.91 264.7,435.7 C265.05,430.48 265.4,424.36 265.7,420 C265.92,416.89 266.09,414.52 266.3,412 C266.49,409.75 266.72,405.6 266.9,405.6 C267.08,405.6 267.26,409.75 267.4,412 C267.56,414.52 267.62,416.57 267.8,420 C268.13,426.2 268.75,437.89 269.3,446.1 C269.79,453.46 270.03,462.95 270.9,467 C271.27,468.73 271.77,470.6 272.2,470.6 C272.63,470.6 273,468.31 273.5,467 C274.11,465.4 274.7,461.95 275.6,461.7 C276.21,461.53 276.94,462.81 277.7,463.3 C278.5,463.82 279.47,464.89 280.3,464.7 C281.42,464.45 282.3,461.55 283.5,460.4 C284.56,459.38 285.69,458.58 287,458 C288.4,457.38 290.16,457.42 291.7,456.9 C293.29,456.36 295.1,454.83 296.4,454.8 C297.3,454.78 297.96,455.29 298.7,455.7 C299.5,456.14 300.03,457.08 301,457.4 C302.24,457.81 303.98,457.46 305.7,457.4 C307.8,457.32 310.37,457.18 312.7,456.9 C315.04,456.62 317.7,456.62 319.7,455.7 C321.55,454.85 322.61,453 324.4,451.8 C326.44,450.44 329.24,448.83 331.4,448.1 C333.07,447.53 334.47,447.17 336.1,447.3 C337.95,447.45 340.1,448.52 341.9,449.3 C343.58,450.03 345.04,450.98 346.6,451.8 C348.14,452.61 349.74,453.42 351.2,454.2 C352.53,454.92 353.73,455.76 355,456.3 C356.17,456.8 357.42,457.7 358.5,457.4 C359.8,457.04 360.84,454.53 362,453.4 C362.97,452.45 363.94,451.11 364.9,451 C365.71,450.91 366.51,451.63 367.3,452.2 C368.28,452.91 369.19,454.26 370.2,455.1 C371.13,455.88 372.13,457.1 373.1,457.1 C374.07,457.1 374.98,455.78 376,455.1 C377.11,454.35 378.11,453.29 379.5,452.8 C381.15,452.21 383.28,452.33 385.4,452.2 C387.88,452.04 390.79,452.1 393.5,452 C396.23,451.9 399.14,451.72 401.7,451.6 C403.97,451.49 406.25,450.9 408.1,451.3 C409.67,451.64 410.81,452.81 412.2,453.4 C413.55,453.97 414.93,454.75 416.3,454.8 C417.66,454.85 418.85,454.07 420.4,453.7 C422.42,453.21 425.01,452.6 427.4,452.2 C429.87,451.79 432.36,451.63 435,451.3 C437.87,450.94 441.19,450.45 444,450.1 C446.48,449.79 448.66,449.48 451,449.3 C453.33,449.12 455.77,448.95 458,449 C460.05,449.04 461.95,449.2 463.9,449.5 C465.85,449.8 467.77,450.32 469.7,450.8 C471.64,451.28 473.55,451.92 475.5,452.4 C477.45,452.88 479.43,453.4 481.4,453.7 C483.33,453.99 485.26,454.25 487.2,454.2 C489.16,454.15 491.15,453.73 493.1,453.4 C495.05,453.07 497.07,452.55 498.9,452.2 C500.55,451.89 502.03,451.67 503.6,451.4" fill="none" stroke="#d4594a" stroke-width="1.3" stroke-linejoin="round" stroke-linecap="round" />
<path d="M272.25,394.3 L259.8,394.3" fill="none" stroke="#ff6060" stroke-width="1.3" stroke-dasharray="5.9 5.4" stroke-dashoffset="0" opacity="0.82"/>
<path d="M271.6,393.65 L271.6,425.1" fill="none" stroke="#ff6060" stroke-width="1.3" stroke-dasharray="5.9 5.4" stroke-dashoffset="0" opacity="0.82"/>
<path d="M272.25,425.1 L259.8,425.1" fill="none" stroke="#ff6060" stroke-width="1.3" stroke-dasharray="5.9 5.4" stroke-dashoffset="9.1" opacity="0.82"/>
<path d="M259.8,393.65 L259.8,425.1" fill="none" stroke="#ff6060" stroke-width="1.3" stroke-dasharray="5.9 5.4" stroke-dashoffset="0" opacity="0.82"/>
<path d="M271.7,398.7 L326.79,390.06" stroke="#f01010" stroke-width="1.3"/>
<path d="M334.2,388.9 L327.1,392.04 L326.48,388.09 Z" fill="#f01010"/>
<rect x="348.9" y="306.3" width="102.1" height="83.1" fill="none" stroke="#6e6e6e" stroke-width="1.15"/>
<path d="M367.2,389.4 v-2 M367.2,306.3 v2 M403.5,389.4 v-2 M403.5,306.3 v2 M439.5,389.4 v-2 M439.5,306.3 v2 M385.3,389.4 v-1.2 M385.3,306.3 v1.2 M421.4,389.4 v-1.2 M421.4,306.3 v1.2 M348.9,306.3 h2 M451,306.3 h-2 M348.9,324.3 h2 M451,324.3 h-2 M348.9,342.3 h2 M451,342.3 h-2 M348.9,360.3 h2 M451,360.3 h-2 M348.9,378.3 h2 M451,378.3 h-2 M348.9,315.3 h1.2 M451,315.3 h-1.2 M348.9,333.3 h1.2 M451,333.3 h-1.2 M348.9,351.3 h1.2 M451,351.3 h-1.2 M348.9,369.3 h1.2 M451,369.3 h-1.2 M348.9,387.3 h1.2 M451,387.3 h-1.2" stroke="#6e6e6e" stroke-width="0.9" fill="none"/>
<text x="346.6" y="309.62" font-size="10.7" text-anchor="end" fill="#000" stroke="#000" >4500</text>
<text x="346.6" y="327.62" font-size="10.7" text-anchor="end" fill="#000" stroke="#000" >4000</text>
<text x="346.6" y="345.62" font-size="10.7" text-anchor="end" fill="#000" stroke="#000" >3500</text>
<text x="346.6" y="363.62" font-size="10.7" text-anchor="end" fill="#000" stroke="#000" >3000</text>
<text x="346.6" y="381.62" font-size="10.7" text-anchor="end" fill="#000" stroke="#000" >2500</text>
<text x="366.9" y="400.4" font-size="10.7" text-anchor="middle" fill="#000" stroke="#000" >0.066</text>
<text x="402.9" y="400.4" font-size="10.7" text-anchor="middle" fill="#000" stroke="#000" >0.072</text>
<text x="439.2" y="400.4" font-size="10.7" text-anchor="middle" fill="#000" stroke="#000" >0.078</text>
<text x="399.6" y="408.6" font-size="10.7" text-anchor="middle" fill="#000" stroke="#000" >Time / s</text>
<text x="0" y="0" font-size="11.1" text-anchor="middle" stroke="#000" transform="translate(319.6,345.45) rotate(-90)">Pressure / Pa</text>
<clipPath id="cc"><rect x="348.9" y="306.3" width="102.1" height="83.1"/></clipPath>
<g clip-path="url(#cc)">
<path d="M385.5,390.5 L394.8,359.5 L403,331.6 L408.9,317.5 L413.8,326.2 L417.4,345.1 L424.6,390.5" fill="none" stroke="#3b8a57" stroke-width="1.0" stroke-linejoin="round" stroke-linecap="round" opacity="0.85"/>
<path d="M399.4,390.5 L403.9,364.9 L408.4,340.6 L414.7,322.6 L420.1,338.8 L430.6,390.5" fill="none" stroke="#d4594a" stroke-width="1.0" stroke-linejoin="round" stroke-linecap="round" opacity="0.85"/>
</g>
<rect x="477.8" y="334" width="0.9" height="1.6" fill="#888"/>
</svg>
</body></html>
